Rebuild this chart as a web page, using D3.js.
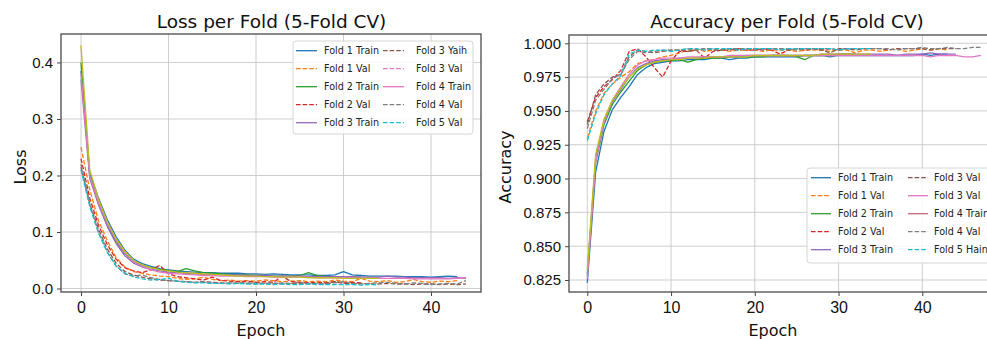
<!DOCTYPE html>
<html><head><meta charset="utf-8">
<script src="https://cdn.jsdelivr.net/npm/d3@7"></script>
<style>
body{margin:0;background:#fff;overflow:hidden;}
svg{display:block;font-family:"DejaVu Sans",sans-serif;}
</style>
</head><body>
<svg id="chart" width="987" height="339"></svg>
<script>
// ---------------- DATA ----------------
const xTicks = [0, 10, 20, 30, 40];
const lossTicks = [0.0, 0.1, 0.2, 0.3, 0.4];
const accTicks = [0.825, 0.850, 0.875, 0.900, 0.925, 0.950, 0.975, 1.000];

const seriesNames = ["Fold 1 Train","Fold 1 Val","Fold 2 Train","Fold 2 Val","Fold 3 Train",
                     "Fold 3 Val","Fold 4 Train","Fold 4 Val","Fold 5 Train","Fold 5 Val"];

const lossLegendLabels = ["Fold 1 Train","Fold 1 Val","Fold 2 Train","Fold 2 Val","Fold 3 Train",
                          "Fold 3 Yaih","Fold 3 Val","Fold 4 Train","Fold 4 Val","Fold 5 Val"];
const accLegendLabels = ["Fold 1 Train","Fold 1 Val","Fold 2 Train","Fold 2 Val","Fold 3 Train",
                         "Fold 3 Val","Fold 3 Val","Fold 4 Train","Fold 4 Val","Fold 5 Hain"];

// Loss values per epoch (index = epoch)
const lossF1Train = [0.385,0.205,0.160,0.122,0.092,0.068,0.052,0.044,0.039,0.035,0.033,0.031,0.030,0.029,0.028,0.028,0.027,0.027,0.027,0.026,0.026,0.025,0.026,0.025,0.024,0.024,0.024,0.023,0.023,0.024,0.030,0.024,0.023,0.022,0.022,0.022,0.022,0.021,0.021,0.021,0.020,0.021,0.022,0.021];
const lossF1Val   = [0.250,0.175,0.120,0.085,0.055,0.038,0.030,0.027,0.024,0.022,0.021,0.018,0.016,0.017,0.020,0.016,0.014,0.015,0.013,0.014,0.013,0.015,0.014,0.012,0.013,0.014,0.012,0.013,0.012,0.015,0.013,0.012,0.018,0.013,0.012,0.014,0.011,0.012,0.016,0.012,0.011,0.013,0.012,0.014];
const lossF2Train = [0.400,0.200,0.150,0.112,0.083,0.062,0.048,0.041,0.037,0.034,0.032,0.030,0.035,0.031,0.028,0.027,0.026,0.025,0.024,0.024,0.023,0.023,0.022,0.022,0.022,0.023,0.028,0.023,0.021,0.021,0.021,0.020,0.020];
const lossF2Val   = [0.230,0.160,0.112,0.078,0.052,0.037,0.031,0.028,0.033,0.041,0.026,0.021,0.019,0.017,0.015,0.020,0.014,0.013,0.012,0.013,0.011,0.012,0.011,0.022,0.012,0.011,0.010,0.011,0.010,0.012,0.010,0.011,0.010];
const lossF3Train = [0.370,0.195,0.148,0.110,0.080,0.058,0.045,0.038,0.034,0.031,0.029,0.028,0.027,0.026,0.025,0.025,0.024,0.024,0.024,0.023,0.023,0.023,0.022,0.022,0.022,0.022,0.021,0.021,0.021,0.021,0.021,0.021,0.020,0.020,0.020,0.022,0.020,0.020,0.019,0.019,0.019,0.019,0.018,0.019,0.018];
const lossF3Val   = [0.215,0.150,0.105,0.070,0.045,0.030,0.024,0.020,0.017,0.015,0.014,0.013,0.012,0.011,0.012,0.011,0.010,0.009,0.010,0.009,0.010,0.009,0.008,0.010,0.009,0.008,0.009,0.008,0.009,0.012,0.009,0.008,0.009,0.008,0.008,0.009,0.008,0.008,0.007,0.008,0.008,0.007,0.008,0.007,0.008];
const lossF4Train = [0.380,0.198,0.152,0.115,0.086,0.063,0.048,0.039,0.033,0.029,0.027,0.026,0.025,0.024,0.023,0.023,0.022,0.022,0.022,0.021,0.021,0.021,0.020,0.020,0.020,0.020,0.020,0.019,0.019,0.019,0.019,0.019,0.018,0.018,0.018,0.018,0.018,0.018,0.017,0.017,0.017,0.017,0.017,0.018,0.019];
const lossF4Val   = [0.220,0.150,0.100,0.065,0.040,0.026,0.022,0.024,0.019,0.016,0.014,0.013,0.012,0.011,0.011,0.010,0.009,0.010,0.009,0.010,0.008,0.009,0.010,0.008,0.009,0.011,0.008,0.009,0.008,0.010,0.012,0.009,0.008,0.009,0.010,0.011,0.009,0.008,0.010,0.009,0.007,0.008,0.009,0.008,0.014];
const lossF5Train = [0.430,0.210,0.158,0.118,0.088,0.066,0.050,0.042,0.037,0.033,0.031,0.029,0.028,0.027,0.026,0.025,0.024,0.023,0.022,0.022,0.022,0.021,0.021,0.020,0.020,0.020,0.019,0.019,0.019,0.019,0.018,0.018,0.018,0.018,0.018];
const lossF5Val   = [0.210,0.145,0.098,0.064,0.040,0.027,0.021,0.017,0.015,0.016,0.018,0.013,0.011,0.010,0.010,0.009,0.009,0.008,0.009,0.008,0.008,0.008,0.007,0.008,0.007,0.007,0.008,0.007,0.007,0.007,0.007,0.007,0.006,0.007,0.006];

// Accuracy values per epoch (index = epoch)
const accF1Train = [0.823,0.905,0.935,0.951,0.960,0.968,0.977,0.982,0.985,0.986,0.987,0.987,0.988,0.988,0.988,0.989,0.989,0.988,0.989,0.989,0.990,0.990,0.990,0.990,0.990,0.990,0.991,0.991,0.991,0.990,0.991,0.991,0.991,0.991,0.991,0.991,0.991,0.991,0.991,0.991,0.992,0.991,0.992,0.992];
const accF1Val   = [0.930,0.950,0.963,0.970,0.975,0.979,0.985,0.987,0.988,0.990,0.991,0.993,0.995,0.996,0.994,0.995,0.995,0.994,0.995,0.995,0.995,0.994,0.995,0.995,0.995,0.994,0.995,0.995,0.995,0.994,0.995,0.995,0.993,0.995,0.995,0.994,0.995,0.996,0.994,0.995,0.996,0.995,0.996,0.995];
const accF2Train = [0.828,0.912,0.940,0.955,0.964,0.972,0.980,0.984,0.986,0.987,0.987,0.988,0.986,0.988,0.989,0.989,0.989,0.990,0.990,0.990,0.990,0.990,0.991,0.991,0.991,0.990,0.988,0.991,0.991,0.991,0.992,0.992,0.992];
const accF2Val   = [0.942,0.960,0.968,0.973,0.980,0.994,0.996,0.990,0.982,0.975,0.987,0.994,0.994,0.995,0.989,0.994,0.995,0.995,0.996,0.995,0.995,0.996,0.995,0.992,0.995,0.996,0.995,0.996,0.995,0.996,0.995,0.996,0.996];
const accF3Train = [0.830,0.915,0.943,0.957,0.966,0.975,0.982,0.985,0.987,0.988,0.988,0.989,0.989,0.989,0.990,0.990,0.990,0.990,0.990,0.991,0.991,0.991,0.991,0.991,0.991,0.991,0.991,0.991,0.992,0.992,0.992,0.992,0.992,0.992,0.992,0.992,0.992,0.991,0.992,0.992,0.992,0.993,0.992,0.992,0.992];
const accF3Val   = [0.940,0.962,0.970,0.975,0.977,0.990,0.995,0.994,0.993,0.994,0.995,0.995,0.994,0.995,0.996,0.995,0.995,0.996,0.995,0.996,0.996,0.995,0.996,0.996,0.995,0.996,0.996,0.996,0.995,0.993,0.996,0.996,0.995,0.996,0.996,0.996,0.995,0.996,0.996,0.996,0.996,0.995,0.996,0.996,0.996];
const accF4Train = [0.826,0.913,0.942,0.958,0.968,0.977,0.984,0.987,0.988,0.989,0.989,0.989,0.990,0.990,0.990,0.990,0.990,0.991,0.991,0.991,0.991,0.991,0.991,0.991,0.991,0.991,0.991,0.991,0.991,0.991,0.991,0.991,0.991,0.991,0.991,0.991,0.991,0.991,0.991,0.991,0.991,0.990,0.991,0.991,0.991,0.990,0.990,0.991];
const accF4Val   = [0.937,0.958,0.966,0.974,0.977,0.988,0.994,0.993,0.994,0.995,0.995,0.995,0.996,0.995,0.996,0.996,0.995,0.996,0.996,0.996,0.995,0.996,0.996,0.996,0.996,0.995,0.996,0.996,0.996,0.996,0.995,0.996,0.996,0.996,0.996,0.996,0.996,0.995,0.996,0.996,0.997,0.996,0.996,0.997,0.996,0.996,0.997,0.997];
const accF5Train = [0.833,0.918,0.944,0.958,0.967,0.975,0.981,0.984,0.986,0.987,0.988,0.988,0.989,0.989,0.989,0.990,0.990,0.990,0.990,0.990,0.991,0.991,0.991,0.991,0.991,0.991,0.991,0.991,0.992,0.992,0.992,0.992,0.992,0.992,0.992];
const accF5Val   = [0.928,0.948,0.962,0.970,0.976,0.992,0.995,0.994,0.995,0.995,0.994,0.995,0.996,0.996,0.995,0.996,0.996,0.996,0.995,0.996,0.996,0.996,0.996,0.995,0.996,0.996,0.996,0.996,0.996,0.996,0.995,0.996,0.996,0.996,0.996];

const lossSeries = [lossF1Train,lossF1Val,lossF2Train,lossF2Val,lossF3Train,lossF3Val,lossF4Train,lossF4Val,lossF5Train,lossF5Val];
const accSeries  = [accF1Train,accF1Val,accF2Train,accF2Val,accF3Train,accF3Val,accF4Train,accF4Val,accF5Train,accF5Val];

// ---------------- STYLE ----------------
const tab10 = ["#1f77b4","#ff7f0e","#2ca02c","#d62728","#9467bd","#8c564b","#e377c2","#7f7f7f","#bcbd22","#17becf"];
const seriesDashed = [false,true,false,true,false,true,false,true,false,true];
const lossLegendStyle = [
  {c:"#1f77b4",d:false},{c:"#ff7f0e",d:true},{c:"#2ca02c",d:false},{c:"#d62728",d:true},{c:"#9467bd",d:false},
  {c:"#8c564b",d:true},{c:"#e377c2",d:true},{c:"#e377c2",d:false},{c:"#7f7f7f",d:true},{c:"#17becf",d:true}];
const accLegendStyle = [
  {c:"#1f77b4",d:false},{c:"#ff7f0e",d:true},{c:"#2ca02c",d:false},{c:"#d62728",d:true},{c:"#9467bd",d:false},
  {c:"#8c564b",d:true},{c:"#e377c2",d:false},{c:"#c9677f",d:false},{c:"#7f7f7f",d:true},{c:"#17becf",d:true}];

const svg = d3.select("#chart");
svg.append("rect").attr("width",987).attr("height",339).attr("fill","#fff");
const defs = svg.append("defs");

function panel(cfg) {
  const {id, box, xDom, yDom, yTicks, yFmt, title, titleX, ylabel, ylabelX, xlabelX, series, legend} = cfg;
  const x = d3.scaleLinear().domain(xDom).range([box.x0, box.x1]);
  const y = d3.scaleLinear().domain(yDom).range([box.y1, box.y0]);
  const g = svg.append("g");

  defs.append("clipPath").attr("id", "clip"+id).append("rect")
    .attr("x", box.x0).attr("y", box.y0).attr("width", box.x1-box.x0).attr("height", box.y1-box.y0);

  // grid
  const grid = g.append("g").attr("stroke","#c8c8c8").attr("stroke-width",0.9);
  xTicks.forEach(t => grid.append("line").attr("x1",x(t)).attr("x2",x(t)).attr("y1",box.y0).attr("y2",box.y1));
  yTicks.forEach(t => grid.append("line").attr("x1",box.x0).attr("x2",box.x1).attr("y1",y(t)).attr("y2",y(t)));

  // lines
  const line = d3.line().x((d,i)=>x(i)).y(d=>y(d));
  const lg = g.append("g").attr("clip-path","url(#clip"+id+")");
  series.forEach((s,k) => {
    lg.append("path").datum(s).attr("d", line).attr("fill","none")
      .attr("stroke", tab10[k]).attr("stroke-width",1.3)
      .attr("stroke-dasharray", seriesDashed[k] ? "4.6,2" : null)
      .attr("stroke-linejoin","round");
  });

  // axes
  const xAxis = d3.axisBottom(x).tickValues(xTicks).tickSize(4).tickPadding(6).tickFormat(d3.format("d"));
  const yAxis = d3.axisLeft(y).tickValues(yTicks).tickSize(4).tickPadding(4).tickFormat(d3.format(yFmt));
  const ax = g.append("g").attr("transform",`translate(0,${box.y1})`).call(xAxis);
  const ay = g.append("g").attr("transform",`translate(${box.x0},0)`).call(yAxis);
  [ax, ay].forEach(a => {
    a.select(".domain").remove();
    a.selectAll(".tick line").attr("stroke","#444").attr("stroke-width",1);
    a.selectAll(".tick text").attr("fill","#111").style("font-size","15px");
  });
  ax.selectAll(".tick text").style("font-size","16px");

  // frame
  g.append("rect").attr("x",box.x0).attr("y",box.y0).attr("width",box.x1-box.x0).attr("height",box.y1-box.y0)
    .attr("fill","none").attr("stroke","#4a4a4a").attr("stroke-width",1.3);

  // titles
  g.append("text").attr("x",titleX).attr("y",28).attr("text-anchor","middle")
    .style("font-size","18.5px").attr("fill","#111").text(title);
  g.append("text").attr("x",xlabelX).attr("y",336).attr("text-anchor","middle")
    .style("font-size","16px").attr("fill","#111").text("Epoch");
  g.append("text").attr("transform",`translate(${ylabelX},167) rotate(-90)`).attr("text-anchor","middle")
    .style("font-size","16px").attr("fill","#111").text(ylabel);

  // legend
  const L = legend;
  const lgd = g.append("g");
  lgd.append("rect").attr("x",L.x).attr("y",L.y).attr("width",L.w).attr("height",L.h)
    .attr("rx",3).attr("fill","#fff").attr("fill-opacity",0.85).attr("stroke","#d6d6d6").attr("stroke-width",1);
  L.labels.forEach((lab,i) => {
    const col = Math.floor(i/5), row = i%5;
    const sx = L.x + L.colOff[col], sy = L.y + L.rowY0 + row*L.rowH;
    const st = L.styles[i];
    lgd.append("line").attr("x1",sx).attr("x2",sx+L.sw).attr("y1",sy).attr("y2",sy)
      .attr("stroke",st.c).attr("stroke-width",1.3).attr("stroke-dasharray", st.d ? "4.6,2" : null);
    lgd.append("text").attr("x",sx+L.sw+L.gap[col]).attr("y",sy+3.4).style("font-size","9.6px")
      .attr("fill","#222").text(lab);
  });
}

panel({
  id:"loss",
  box:{x0:61, x1:481, y0:34, y1:292},
  xDom:[-2.286, 45.714], yDom:[-0.0062, 0.4504],
  yTicks: lossTicks, yFmt: ".1f",
  title:"Loss per Fold (5-Fold CV)", titleX:271.5,
  ylabel:"Loss", ylabelX:25.5, xlabelX:261,
  series: lossSeries,
  legend:{x:293, y:41, w:180, h:93, colOff:[3,90], rowY0:9.7, rowH:18, sw:21, gap:[7,12],
          labels: lossLegendLabels, styles: lossLegendStyle}
});

panel({
  id:"acc",
  box:{x0:569, x1:1003, y0:35, y1:292},
  xDom:[-2.185, 49.636], yDom:[0.81613, 1.00614],
  yTicks: accTicks, yFmt: ".3f",
  title:"Accuracy per Fold (5-Fold CV)", titleX:787,
  ylabel:"Accuracy", ylabelX:511, xlabelX:773,
  series: accSeries,
  legend:{x:807, y:168, w:190, h:95, colOff:[4,101], rowY0:9.7, rowH:18, sw:20, gap:[7,6],
          labels: accLegendLabels, styles: accLegendStyle}
});
</script>
</body></html>
